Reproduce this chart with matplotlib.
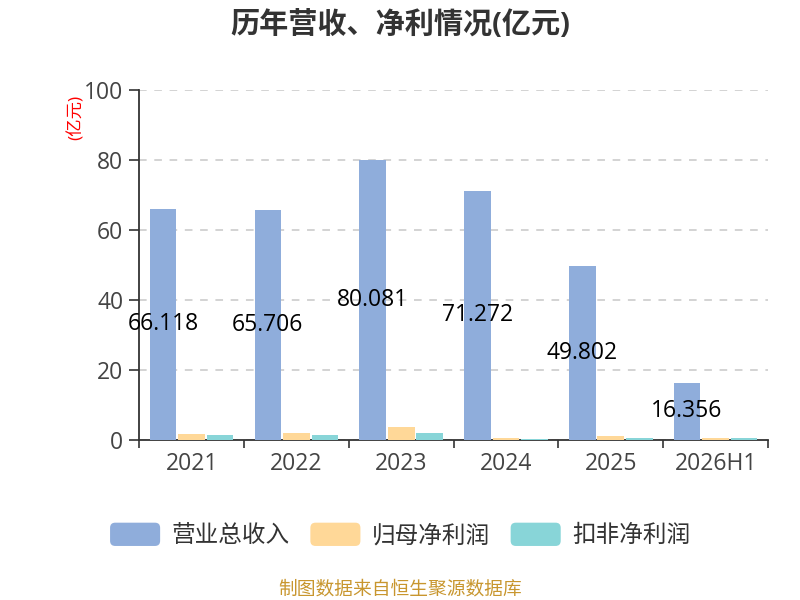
import matplotlib; matplotlib.use("Agg")
import matplotlib.pyplot as plt
from matplotlib.patches import FancyBboxPatch, Patch
from matplotlib.legend_handler import HandlerPatch
import numpy as np

plt.rcParams["font.family"] = ["Open Sans", "Noto Sans CJK SC", "DejaVu Sans"]

years = ["2021", "2022", "2023", "2024", "2025", "2026H1"]
revenue = [66.118, 65.706, 80.081, 71.272, 49.802, 16.356]
net_profit = [1.7, 2.1, 3.8, 0.65, 1.2, 0.55]
net_profit_deduct = [1.35, 1.4, 2.1, 0.3, 0.6, 0.55]
series_names = ["营业总收入", "归母净利润", "扣非净利润"]

BLUE = "#8FADDB"; ORANGE = "#FFD898"; TEAL = "#88D5D8"
GRID = "#C8C8C8"; AXC = "#333333"


class RoundHandler(HandlerPatch):
    def create_artists(self, legend, orig_handle, xdescent, ydescent, width, height, fontsize, trans):
        p = FancyBboxPatch((-xdescent, -ydescent), width, height,
                           boxstyle="round,pad=0,rounding_size=%f" % (height * 0.22),
                           fc=orig_handle.get_facecolor(), ec="none", transform=trans)
        return [p]


fig = plt.figure(figsize=(8, 6), dpi=100)
ax = fig.add_axes([0.174, 0.2667, 0.786, 0.5833])

x = np.arange(len(years))
off = 0.272; bw = 0.255
ax.bar(x - off, revenue, bw, color=BLUE, zorder=3)
ax.bar(x, net_profit, bw, color=ORANGE, zorder=3)
ax.bar(x + off, net_profit_deduct, bw, color=TEAL, zorder=3)

for xi, v in zip(x, revenue):
    ax.text(xi - off, v / 2, f"{v:.3f}", ha="center", va="center", fontsize=16.5, color="black", zorder=4)

ax.set_xlim(-0.5, len(years) - 0.5)
ax.set_ylim(0, 100)
ax.set_yticks(range(0, 101, 20))
ax.tick_params(axis="y", labelsize=16.5, labelcolor="#444444", color=AXC, length=7, width=1.2, pad=4.5)
ax.yaxis.grid(True, ls=(0, (5, 5)), color=GRID, lw=1.1, zorder=0)

ax.set_xticks(np.arange(-0.5, len(years), 1.0))
ax.set_xticklabels([])
ax.set_xticks(x, minor=True)
ax.set_xticklabels(years, minor=True)
ax.tick_params(axis="x", which="major", length=6, width=1.2, color=AXC)
ax.tick_params(axis="x", which="minor", length=0, labelsize=16.5, labelcolor="#444444", pad=9)

for s in ["top", "right"]:
    ax.spines[s].set_visible(False)
for s in ["left", "bottom"]:
    ax.spines[s].set_color(AXC); ax.spines[s].set_linewidth(1.3)

ax.text(-0.1, 0.923, "(亿元)", transform=ax.transAxes, rotation=90, ha="center", va="center",
        fontsize=12.5, color="red")

fig.text(0.5, 0.958, "历年营收、净利情况(亿元)", ha="center", va="center", fontsize=21,
         fontweight="bold", color="#333333")

handles = [Patch(facecolor=c) for c in (BLUE, ORANGE, TEAL)]
fig.legend(handles, series_names, loc="center", bbox_to_anchor=(0.5, 0.1075), ncol=3,
           frameon=False, fontsize=17, handlelength=2.12, handleheight=1.14,
           handletextpad=0.47, columnspacing=0.89, labelcolor="#333333",
           handler_map={Patch: RoundHandler()})

fig.text(0.5, 0.0175, "制图数据来自恒生聚源数据库", ha="center", va="center", fontsize=13.5, color="#C8962E")

fig.savefig("out.png", dpi=100)
